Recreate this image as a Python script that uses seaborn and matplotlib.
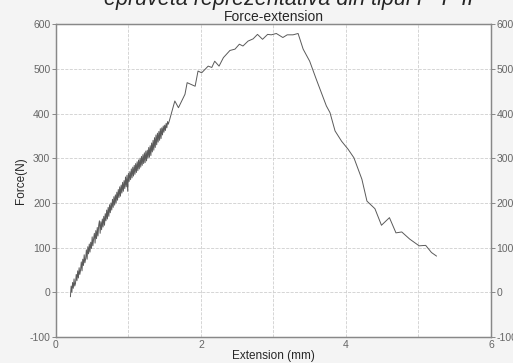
import matplotlib
matplotlib.use("Agg")
import matplotlib.pyplot as plt
import pandas as pd
import seaborn as sns

# extension (mm) / force (N)
extension = [0.20, 0.21, 0.22, 0.23, 0.24, 0.25, 0.26, 0.27, 0.28, 0.29, 0.30, 0.31, 0.32, 0.33, 0.34,
             0.35, 0.36, 0.37, 0.38, 0.39, 0.40, 0.41, 0.42, 0.43, 0.44, 0.45, 0.46, 0.47, 0.48, 0.49,
             0.50, 0.51, 0.52, 0.53, 0.54, 0.55, 0.56, 0.57, 0.58, 0.59, 0.60, 0.61, 0.62, 0.63, 0.64,
             0.65, 0.66, 0.67, 0.68, 0.69, 0.70, 0.71, 0.72, 0.73, 0.74, 0.75, 0.76, 0.77, 0.78, 0.79,
             0.80, 0.81, 0.82, 0.83, 0.84, 0.85, 0.86, 0.87, 0.88, 0.89, 0.90, 0.91, 0.92, 0.93, 0.94,
             0.95, 0.96, 0.97, 0.98, 0.99, 1.00, 1.01, 1.02, 1.03, 1.04, 1.05, 1.06, 1.07, 1.08, 1.09,
             1.10, 1.11, 1.12, 1.13, 1.14, 1.15, 1.16, 1.17, 1.18, 1.19, 1.20, 1.21, 1.22, 1.23, 1.24,
             1.25, 1.26, 1.27, 1.28, 1.29, 1.30, 1.31, 1.32, 1.33, 1.34, 1.35, 1.36, 1.37, 1.38, 1.39,
             1.40, 1.41, 1.42, 1.43, 1.44, 1.45, 1.46, 1.47, 1.48, 1.49, 1.50, 1.51, 1.52, 1.53, 1.54,
             1.55,
             1.57, 1.64, 1.69, 1.78, 1.81, 1.92, 1.96, 2.01, 2.10, 2.15, 2.19, 2.25, 2.31,
             2.40, 2.47, 2.53, 2.58, 2.65, 2.72, 2.78, 2.85, 2.92, 2.97, 3.04, 3.13, 3.19, 3.27, 3.34,
             3.41, 3.50, 3.59, 3.73, 3.78, 3.85, 3.94, 4.03, 4.11, 4.22, 4.29, 4.40, 4.49, 4.60, 4.69,
             4.77, 4.88, 5.01, 5.10, 5.18, 5.25]
force = [-10, 14, 0, 22, 9, 30, 14, 20, 40, 26, 48, 32, 55, 40, 50,
         68, 48, 74, 60, 84, 66, 75, 95, 74, 102, 86, 108, 90, 112, 98,
         124, 104, 120, 132, 110, 138, 120, 145, 126, 150, 160, 132, 158, 140, 164,
         146, 170, 150, 176, 160, 184, 164, 190, 170, 196, 178, 200, 184, 208, 190,
         214, 195, 218, 200, 224, 206, 230, 212, 236, 215, 240, 222, 246, 226, 250,
         232, 258, 236, 262, 226, 266, 248, 270, 252, 276, 256, 280, 260, 284, 264,
         288, 268, 292, 272, 296, 276, 300, 280, 304, 284, 308, 288, 312, 290, 316,
         294, 318, 300, 324, 302, 328, 306, 334, 314, 340, 318, 346, 324, 352, 330,
         356, 336, 360, 340, 366, 344, 368, 352, 372, 358, 374, 362, 378, 368, 382,
         376,
         387, 428, 413, 443, 469, 461, 495, 491, 506, 503, 517, 506, 525,
         541, 544, 555, 551, 562, 567, 577, 566, 577, 576, 579, 570, 576, 576, 579,
         544, 517, 477, 417, 402, 361, 338, 320, 301, 253, 204, 187, 150, 167, 133,
         135, 119, 104, 105, 89, 81]

df = pd.DataFrame({"ext": extension, "force": force})

sns.set_style("white")
plt.rcParams["font.family"] = ["Liberation Sans", "DejaVu Sans"]
plt.rcParams["axes.unicode_minus"] = False

fig = plt.figure(figsize=(5.13, 3.63), dpi=100, facecolor="#f4f4f4")
ax = fig.add_axes([0.109, 0.0716, 0.848, 0.862])
ax.set_facecolor("white")

sns.lineplot(data=df, x="ext", y="force", sort=False, color="#5a5a5a", linewidth=0.7, ax=ax)

ax.set_xlim(0, 6)
ax.set_ylim(-100, 600)
ax.set_xticks([0, 2, 4, 6])
ax.set_xticks([1, 3, 5], minor=True)
ax.set_yticks(range(-100, 601, 100))
ax.grid(True, which="both", color="#cfcfcf", linestyle="--", linewidth=0.6)
ax.tick_params(axis="both", which="both", colors="#777777", labelsize=7.5, length=3, width=0.6)
ax.tick_params(axis="x", which="both", direction="in", labelcolor="#666666", pad=2)
ax.tick_params(axis="y", labelcolor="#666666", pad=1)
for s in ax.spines.values():
    s.set_color("#888888")
    s.set_linewidth(0.9)

ax2 = ax.twinx()
ax2.set_ylim(-100, 600)
ax2.set_yticks(range(-100, 601, 100))
ax2.tick_params(axis="y", colors="#777777", labelcolor="#666666", labelsize=7.5, length=3, width=0.6, pad=1)
for s in ax2.spines.values():
    s.set_color("#888888")
    s.set_linewidth(0.9)

ax.set_xlabel("Extension (mm)", fontsize=8.5, labelpad=0)
ax.set_ylabel("Force(N)", fontsize=8.5, labelpad=2)
ax.set_title("Force-extension", fontsize=10, pad=2)
fig.text(0.563, 1 - 5 / 363, "epruveta reprezentativa din tipul I - P II", fontsize=15.5,
         style="italic", ha="center", va="baseline")

fig.savefig("out.png", dpi=100, facecolor=fig.get_facecolor())
